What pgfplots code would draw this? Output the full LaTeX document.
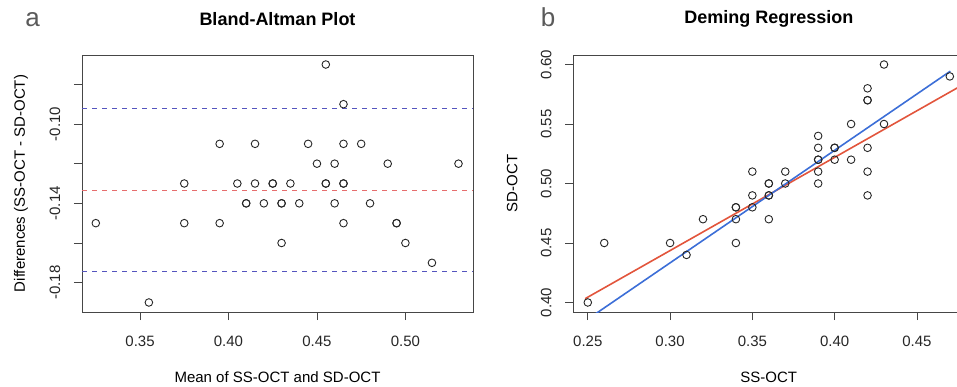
\documentclass[border=0pt]{standalone}
\usepackage{pgfplots}
\pgfplotsset{compat=1.18}
\usepackage{fontspec}
\setmainfont{Liberation Sans}
\definecolor{axisgray}{RGB}{70,70,70}
\definecolor{dashblue}{RGB}{85,85,190}
\definecolor{dashred}{RGB}{230,110,110}
\definecolor{regred}{RGB}{226,85,60}
\definecolor{regblue}{RGB}{60,110,215}
\definecolor{lblgray}{RGB}{90,90,90}
\pgfplotsset{
  rstyle/.style={
    scale only axis, width=391pt, height=257pt,
    axis line style={axisgray, line width=0.8pt},
    tick style={axisgray, line width=0.8pt},
    tick align=outside, tick pos=left, major tick length=8pt,
    every tick label/.append style={font=\fontsize{15}{18}\selectfont, text=black!85, inner sep=0pt},
    xticklabel style={anchor=north},
    yticklabel style={rotate=90, anchor=south},
    xticklabel shift=15.5pt,
    yticklabel shift=13.5pt,
    title style={font=\bfseries\fontsize{18}{21}\selectfont, at={(axis description cs:0.5,1)}, anchor=center, yshift=30pt},
    xlabel style={font=\fontsize{15}{18}\selectfont, at={([yshift=-65pt]axis description cs:0.5,0)}, anchor=center},
    ylabel style={font=\fontsize{15}{18}\selectfont, at={([xshift=-61pt]axis description cs:0,0.5)}, anchor=center},
    pts/.style={only marks, mark=o, mark size=3.8pt, mark options={line width=0.9pt, draw=black!85}},
  },
}
\begin{document}
\begin{tikzpicture}
\useasboundingbox (0,0) rectangle (957pt,386pt);
\node[anchor=base, text=lblgray, font=\fontsize{26}{30}\selectfont] at (32.5pt,359pt) {a};
\node[anchor=base, text=lblgray, font=\fontsize{26}{30}\selectfont] at (548pt,359pt) {b};
\begin{axis}[rstyle,
  at={(82pt,74pt)}, anchor=south west,
  xmin=0.3172, xmax=0.5382, ymin=-0.1948, ymax=-0.0652,
  xtick={0.35,0.40,0.45,0.50}, xticklabels={0.35,0.40,0.45,0.50},
  ytick={-0.18,-0.16,-0.14,-0.12,-0.10,-0.08}, yticklabels={-0.18,,-0.14,,-0.10,},
  title={Bland-Altman Plot},
  xlabel={Mean of SS-OCT and SD-OCT},
  ylabel={Differences (SS-OCT - SD-OCT)},
]
\addplot[dashblue, line width=0.8pt, dash pattern=on 5pt off 5pt] coordinates {(0.3172,-0.0921) (0.5382,-0.0921)};
\addplot[dashred, line width=0.8pt, dash pattern=on 5pt off 5pt] coordinates {(0.3172,-0.1333) (0.5382,-0.1333)};
\addplot[dashblue, line width=0.8pt, dash pattern=on 5pt off 5pt] coordinates {(0.3172,-0.1745) (0.5382,-0.1745)};
\addplot[pts] coordinates {
(0.325,-0.15) (0.355,-0.19) (0.375,-0.13) (0.375,-0.15) (0.395,-0.11) (0.395,-0.15)
(0.405,-0.13) (0.41,-0.14) (0.41,-0.14) (0.415,-0.11) (0.415,-0.13) (0.42,-0.14)
(0.425,-0.13) (0.425,-0.13) (0.43,-0.14) (0.43,-0.14) (0.43,-0.16) (0.435,-0.13)
(0.44,-0.14) (0.445,-0.11) (0.45,-0.12) (0.455,-0.07) (0.455,-0.13) (0.455,-0.13)
(0.46,-0.12) (0.46,-0.14) (0.465,-0.09) (0.465,-0.11) (0.465,-0.13) (0.465,-0.13)
(0.465,-0.15) (0.475,-0.11) (0.48,-0.14) (0.49,-0.12) (0.495,-0.15) (0.495,-0.15)
(0.50,-0.16) (0.515,-0.17) (0.53,-0.12)
};
\end{axis}
\begin{axis}[rstyle,
  at={(573.3pt,74pt)}, anchor=south west,
  xmin=0.2412, xmax=0.4788, ymin=0.392, ymax=0.608,
  xtick={0.25,0.30,0.35,0.40,0.45}, xticklabels={0.25,0.30,0.35,0.40,0.45},
  ytick={0.40,0.45,0.50,0.55,0.60}, yticklabels={0.40,0.45,0.50,0.55,0.60},
  title={Deming Regression},
  xlabel={SS-OCT},
  ylabel={SD-OCT},
]
\addplot[pts] coordinates {
(0.25,0.40) (0.26,0.45) (0.30,0.45) (0.31,0.44) (0.32,0.47)
(0.34,0.48) (0.34,0.48) (0.34,0.47) (0.34,0.45)
(0.35,0.51) (0.35,0.49) (0.35,0.48)
(0.36,0.50) (0.36,0.50) (0.36,0.49) (0.36,0.49) (0.36,0.47)
(0.37,0.51) (0.37,0.50)
(0.39,0.54) (0.39,0.53) (0.39,0.52) (0.39,0.52) (0.39,0.51) (0.39,0.50)
(0.40,0.53) (0.40,0.53) (0.40,0.52)
(0.41,0.55) (0.41,0.52)
(0.42,0.58) (0.42,0.57) (0.42,0.57) (0.42,0.53) (0.42,0.51) (0.42,0.49)
(0.43,0.60) (0.43,0.55) (0.47,0.59)
};
\addplot[regred, line width=1.6pt] coordinates {(0.2484,0.4032) (0.4788,0.5837)};
\addplot[regblue, line width=1.6pt] coordinates {(0.25,0.3860) (0.4703,0.5944)};
\end{axis}
\end{tikzpicture}
\end{document}
